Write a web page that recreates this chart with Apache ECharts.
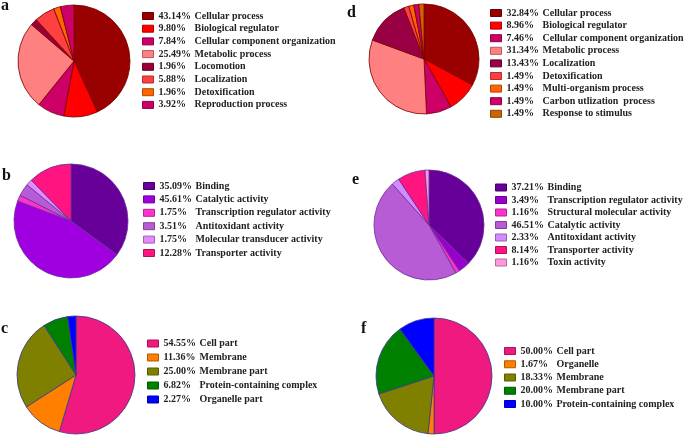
<!DOCTYPE html>
<html>
<head>
<meta charset="utf-8">
<script src="https://cdn.jsdelivr.net/npm/echarts@6/dist/echarts.min.js"></script>
<style>html,body{margin:0;padding:0;background:#fff}#c{width:685px;height:437px}</style>
</head>
<body>
<div id="c"></div>
<script>
// Panel a: biological process (sample 1)
var aLabels = ['Cellular process','Biological regulator','Cellular component organization','Metabolic process','Locomotion','Localization','Detoxification','Reproduction process'];
var aValues = [43.14, 9.80, 7.84, 25.49, 1.96, 5.88, 1.96, 3.92];
var aColors = ['#990000','#FF0000','#CC0066','#FF8080','#990033','#FF4040','#FF6600','#CC0066'];

// Panel d: biological process (sample 2)
var dLabels = ['Cellular process','Biological regulator','Cellular component organization','Metabolic process','Localization','Detoxification','Multi-organism process','Carbon utlization  process','Response to stimulus'];
var dValues = [32.84, 8.96, 7.46, 31.34, 13.43, 1.49, 1.49, 1.49, 1.49];
var dColors = ['#990000','#FF0000','#CC0066','#FF8080','#990044','#FF4040','#FF6600','#CC0066','#CC6600'];

// Panel b: molecular function (sample 1)
var bLabels = ['Binding','Catalytic activity','Transcription regulator activity','Antitoxidant activity','Molecular transducer activity','Transporter activity'];
var bValues = [35.09, 45.61, 1.75, 3.51, 1.75, 12.28];
var bColors = ['#660099','#A000E0','#FF33CC','#B85CD6','#E08CFF','#FF1480'];

// Panel e: molecular function (sample 2)
var eLabels = ['Binding','Transcription regulator activity','Structural molecular activity','Catalytic activity','Antitoxidant activity','Transporter activity','Toxin activity'];
var eValues = [37.21, 3.49, 1.16, 46.51, 2.33, 8.14, 1.16];
var eColors = ['#660099','#9900CC','#FF33CC','#B85CD6','#D28CFF','#FF1480','#FF99DD'];

// Panel c: cellular component (sample 1)
var cLabels = ['Cell part','Membrane','Membrane part','Protein-containing complex','Organelle part'];
var cValues = [54.55, 11.36, 25.00, 6.82, 2.27];
var cColors = ['#F0197F','#FF8000','#808000','#008000','#0000FF'];

// Panel f: cellular component (sample 2)
var fLabels = ['Cell part','Organelle','Membrane','Membrane part','Protein-containing complex'];
var fValues = [50.00, 1.67, 18.33, 20.00, 10.00];
var fColors = ['#F0197F','#FF8000','#808000','#008000','#0000FF'];

var panelLetters = ['a','b','c','d','e','f'];

var panels = [
  {L:aLabels,V:aValues,C:aColors,center:[74,61],r:56,border:'#7A0000',lg:{left:142,top:11,gap:2.7}},
  {L:dLabels,V:dValues,C:dColors,center:[424,59],r:55,border:'#7A0000',lg:{left:490,top:8,gap:2.6}},
  {L:bLabels,V:bValues,C:bColors,center:[71,221],r:57,border:'#6A2C9A',lg:{left:143,top:181,gap:3.4}},
  {L:eLabels,V:eValues,C:eColors,center:[429,225],r:55,border:'#6A2C9A',lg:{left:495,top:182.5,gap:2.5}},
  {L:cLabels,V:cValues,C:cColors,center:[76,375],r:59,border:'#3A3A8A',lg:{left:147,top:338.5,gap:4}},
  {L:fLabels,V:fValues,C:fColors,center:[434,376],r:58,border:'#3A3A8A',lg:{left:504,top:346,gap:3.25}}
];

function darker(hex){
  var n=parseInt(hex.slice(1),16);
  var r=Math.round(((n>>16)&255)*0.7),g=Math.round(((n>>8)&255)*0.7),b=Math.round((n&255)*0.7);
  return 'rgb('+r+','+g+','+b+')';
}

var series=[], legends=[];
panels.forEach(function(p,i){
  series.push({
    type:'pie', center:p.center, radius:p.r, startAngle:90, clockwise:true,
    label:{show:false}, labelLine:{show:false}, silent:true,
    itemStyle:{borderColor:p.border,borderWidth:0.8},
    data:p.L.map(function(n,k){return {name:n,value:p.V[k],itemStyle:{color:p.C[k]}};})
  });
  legends.push({
    orient:'vertical', left:p.lg.left, top:p.lg.top, itemGap:p.lg.gap,
    itemWidth:11, itemHeight:7, icon:'rect', padding:0, selectedMode:false,
    data:p.L.map(function(n,k){return {name:n,itemStyle:{color:p.C[k],borderColor:darker(p.C[k]),borderWidth:1}};}),
    formatter:function(name){
      var k=p.L.indexOf(name);
      return '{p|'+p.V[k].toFixed(2)+'%}{n|'+name+'}';
    },
    textStyle:{
      fontFamily:'"Liberation Serif","Times New Roman",serif', fontWeight:'bold', fontSize:10, color:'#222',
      rich:{
        p:{width:36,fontFamily:'"Liberation Serif","Times New Roman",serif',fontWeight:'bold',fontSize:10,color:'#222',lineHeight:11},
        n:{fontFamily:'"Liberation Serif","Times New Roman",serif',fontWeight:'bold',fontSize:10,color:'#222',lineHeight:11}
      }
    }
  });
});

var letterPos = {a:[1,12],b:[2,182],c:[1,335],d:[347,19],e:[352,186],f:[361,335]};
var graphics = panelLetters.map(function(l){
  return {type:'text',left:letterPos[l][0],top:letterPos[l][1]-14,
    style:{text:l,font:'bold 16px "Liberation Serif","Times New Roman",serif',fill:'#111'}};
});

var chart=echarts.init(document.getElementById('c'),null,{renderer:'canvas'});
chart.setOption({animation:false,backgroundColor:'#fff',legend:legends,series:series,graphic:graphics});
</script>
</body>
</html>
